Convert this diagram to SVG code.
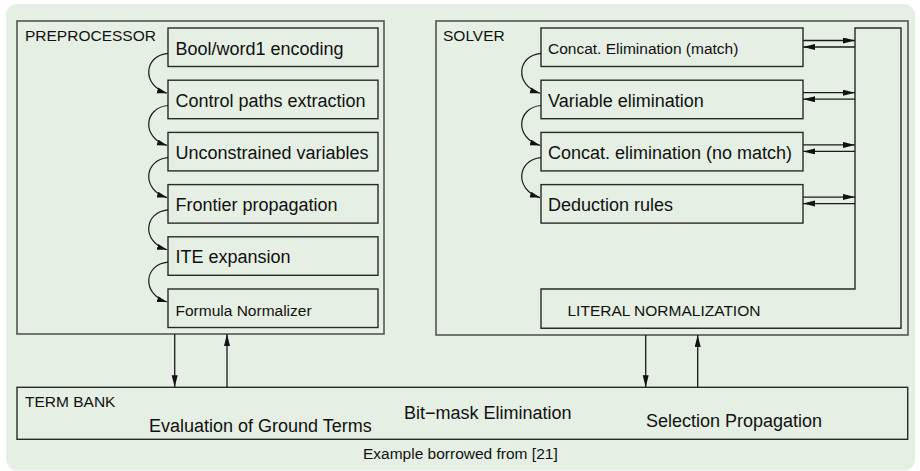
<svg xmlns="http://www.w3.org/2000/svg" width="920" height="471" viewBox="0 0 920 471">
<defs>
<style>
.bg{fill:#e5efe4}
.box{fill:#e5efe4;stroke:#2a2a2a;stroke-width:1.4}
.frame{fill:#e5efe4;stroke:#555;stroke-width:1.6}
.t{font-family:"Liberation Sans",Arial,Helvetica,sans-serif;font-size:18px;fill:#111}
.s{font-size:15.5px}
.cv{fill:none;stroke:#1a1a1a;stroke-width:1.2;marker-end:url(#ahs)}
.ar{fill:none;stroke:#1a1a1a;stroke-width:1.3;marker-end:url(#ah)}
</style>
<marker id="ah" markerWidth="13" markerHeight="7" refX="12" refY="3" orient="auto" markerUnits="userSpaceOnUse"><path d="M0,0 L12,3 L0,6 z" fill="#111"/></marker>
<marker id="ahs" markerWidth="11" markerHeight="7" refX="10" refY="3" orient="auto" markerUnits="userSpaceOnUse"><path d="M0,0 L10,3 L0,6 z" fill="#111"/></marker>
</defs>
<rect width="920" height="471" fill="#ffffff"/>
<rect class="bg" x="6" y="4" width="909" height="466.5" rx="11"/>

<g id="preprocessor">
<rect class="frame" x="17" y="21" width="367" height="313"/>
<text class="t s" x="25" y="40.5">PREPROCESSOR</text>
</g>
<g id="pp-bool"><rect class="box" x="168" y="28" width="210" height="38.5"/><text class="t" x="175.5" y="54.5">Bool/word1 encoding</text></g>
<g id="pp-control"><rect class="box" x="168" y="80.2" width="210" height="38.5"/><text class="t" x="175.5" y="106.7">Control paths extraction</text></g>
<g id="pp-unconstrained"><rect class="box" x="168" y="132.4" width="210" height="38.5"/><text class="t" x="175.5" y="158.9">Unconstrained variables</text></g>
<g id="pp-frontier"><rect class="box" x="168" y="184.6" width="210" height="38.5"/><text class="t" x="175.5" y="211.1">Frontier propagation</text></g>
<g id="pp-ite"><rect class="box" x="168" y="236.8" width="210" height="38.5"/><text class="t" x="175.5" y="263.3">ITE expansion</text></g>
<g id="pp-formula"><rect class="box" x="168" y="289" width="210" height="38.5"/><text class="t s" x="175.5" y="315.5">Formula Normalizer</text></g>

<g id="solver">
<rect class="frame" x="436" y="21" width="472" height="314"/>
<text class="t s" x="443" y="40.5">SOLVER</text>
</g>
<g id="literal-normalization">
<path class="box" d="M855,28 L901,28 L901,328.3 L541,328.3 L541,289 L855,289 Z"/>
<text class="t s" x="567.5" y="315.5">LITERAL NORMALIZATION</text>
</g>
<g id="sv-concat-match"><rect class="box" x="541" y="28" width="262" height="38.5"/><text class="t s" x="548" y="54.3">Concat. Elimination (match)</text></g>
<g id="sv-variable"><rect class="box" x="541" y="80.2" width="262" height="38.5"/><text class="t" x="548" y="106.5">Variable elimination</text></g>
<g id="sv-concat-nomatch"><rect class="box" x="541" y="132.4" width="262" height="38.5"/><text class="t" x="548" y="158.7">Concat. elimination (no match)</text></g>
<g id="sv-deduction"><rect class="box" x="541" y="184.6" width="262" height="38.5"/><text class="t" x="548" y="210.9">Deduction rules</text></g>

<g id="term-bank">
<rect class="box" x="17" y="387.3" width="890.7" height="52"/>
<text class="t s" x="25" y="406.7">TERM BANK</text>
<text class="t" x="149" y="432.3">Evaluation of Ground Terms</text>
<text class="t" x="404" y="419.3">Bit−mask Elimination</text>
<text class="t" x="646" y="426.7">Selection Propagation</text>
</g>

<g id="caption">
<text class="t s" x="363" y="459.3">Example borrowed from [21]</text>
</g>

<g id="connectors">
<path class="cv" d="M168,53.3 C144,55.3 141,85.2 167,93.2"/>
<path class="cv" d="M168,105.5 C144,107.5 141,137.4 167,145.4"/>
<path class="cv" d="M168,157.7 C144,159.7 141,189.6 167,197.6"/>
<path class="cv" d="M168,209.9 C144,211.9 141,241.8 167,249.8"/>
<path class="cv" d="M168,262.1 C144,264.1 141,294 167,302"/>
<path class="cv" d="M541,53.3 C517,55.3 514,85.2 540,93.2"/>
<path class="cv" d="M541,105.5 C517,107.5 514,137.4 540,145.4"/>
<path class="cv" d="M541,157.7 C517,159.7 514,189.6 540,197.6"/>
<path class="ar" d="M803,40.5 L855,40.5"/>
<path class="ar" d="M855,47 L803,47"/>
<path class="ar" d="M803,92.7 L855,92.7"/>
<path class="ar" d="M855,99.2 L803,99.2"/>
<path class="ar" d="M803,144.9 L855,144.9"/>
<path class="ar" d="M855,151.4 L803,151.4"/>
<path class="ar" d="M803,197.1 L855,197.1"/>
<path class="ar" d="M855,203.6 L803,203.6"/>
<path class="ar" d="M174.7,334 L174.7,387.3"/>
<path class="ar" d="M227,387.3 L227,334"/>
<path class="ar" d="M645.7,335 L645.7,387.3"/>
<path class="ar" d="M697.7,387.3 L697.7,335"/>
</g>
</svg>
